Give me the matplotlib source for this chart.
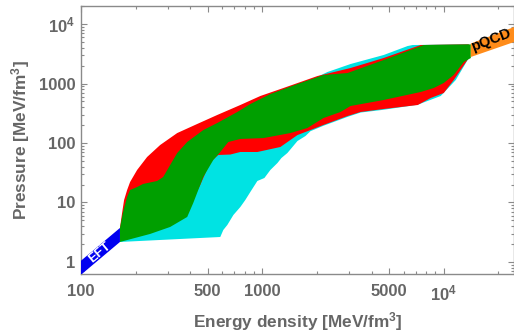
import matplotlib
matplotlib.use("Agg")
import matplotlib.pyplot as plt
import numpy as np
from matplotlib.ticker import FixedLocator, NullFormatter, FixedFormatter

plt.rcParams['font.family'] = ['Liberation Sans', 'DejaVu Sans']
plt.rcParams['mathtext.fontset'] = 'custom'
plt.rcParams['mathtext.rm'] = 'Liberation Sans:bold'
plt.rcParams['mathtext.bf'] = 'Liberation Sans:bold'
plt.rcParams['mathtext.it'] = 'Liberation Sans:bold'

# ---------------- data (energy density eps, pressure P in MeV/fm^3) -------------
# EFT band
eft_eps = [100, 164]
eft_p_low = [0.61, 2.17]
eft_p_high = [1.05, 3.73]

# pQCD band
pqcd_eps = [14100, 24400]
pqcd_p_low = [2790, 4980]
pqcd_p_high = [4700, 8900]

# cyan region
cyan_top_eps = [164, 240, 340, 455, 586, 756, 975, 1306, 2014, 2286, 3064, 4661, 6325, 6741, 13744]
cyan_top_p = [3.0, 15, 80, 150, 250, 400, 550, 800, 1300, 1561, 2127, 3013, 4268, 4437, 4550]
cyan_low_eps = [164, 586, 609, 641, 692, 756, 805, 858, 938.5, 1026, 1107, 1211, 1274, 1374, 1465,
                1561, 1728, 1842, 2173, 2949, 3479, 4661, 7185, 9626, 11652, 13744]
cyan_low_p = [2.17, 2.63, 3.45, 4.19, 6.16, 8.40, 11.0, 15.0, 23.0, 25.8, 35.2, 46.1, 56, 67.9, 85.7,
              108, 131, 158, 195, 275, 325, 362, 440, 617, 1145, 2683]

# red region
red_top_eps = [164, 168.5, 172.8, 179.6, 186.5, 203.9, 231.5, 273.3, 339.2, 437.5, 564.3, 755.7, 975,
               1306, 2014, 3064, 4661, 7463, 13744]
red_top_p = [3.73, 6.66, 11.0, 16.2, 22.1, 35.2, 58.2, 92.6, 147, 209, 296, 435, 617,
             840, 1337, 1822, 2683, 4437, 4550]
red_low_eps = [164, 240.5, 298.6, 352.4, 400.2, 454.5, 516.2, 571.4, 665.7, 755.7, 938.5, 1257, 1561,
               1842, 2173, 2949, 3479, 4661, 7185, 8478, 10000, 11356, 13744]
red_low_p = [2.25, 3.32, 4.35, 6.16, 9.08, 19.7, 47.9, 62.9, 64, 70.6, 70.6, 85.7, 136,
             165, 201, 284, 332, 373, 435, 571, 692, 1145, 2683]

# green region
green_top_eps = [164, 164, 170.6, 179.6, 186.5, 203.9, 220, 263, 283.8, 310.2, 339.2, 385.1, 472.1,
                 564.3, 727.4, 858.5, 1107, 1561, 2173, 2949, 4661, 7754, 14100]
green_top_p = [2.17, 3.73, 6.92, 12.4, 16.2, 18.2, 20.5, 23.0, 26.8, 42.7, 67.9, 104, 165,
               217, 332, 452, 666, 981, 1390, 1501, 2483, 4437, 4550]
green_low_eps = [164, 240.5, 310.2, 385.1, 415.8, 472.1, 536.3, 586.1, 649, 755.7, 1013, 1428, 1773,
                 2173, 2697, 3064, 4661, 7463, 8807, 10000, 11356, 12898, 14100]
green_low_p = [2.17, 2.96, 3.88, 5.71, 9.81, 26.8, 51.8, 70.6, 104, 117, 121, 147, 179,
               263, 332, 419, 528, 720, 840, 1020, 1390, 2298, 2683]

x_major = [100, 500, 1000, 5000, 10000]
x_major_labels = ['100', '500', '1000', '5000', r'$\mathbf{10^{4}}$']
y_major = [1, 10, 100, 1000, 10000]
y_major_labels = ['1', '10', '100', '1000', r'$\mathbf{10^{4}}$']

# ---------------- plotting ----------------
fig = plt.figure(figsize=(5.14, 3.33), dpi=100)
ax = fig.add_axes([81 / 514, 59 / 333, 433 / 514, 268 / 333])
ax.set_xscale('log')
ax.set_yscale('log')


def poly(ax, xt, yt, xb, yb, color, z):
    xs = list(xt) + list(xb)[::-1]
    ys = list(yt) + list(yb)[::-1]
    ax.fill(xs, ys, color=color, lw=0, zorder=z)


poly(ax, cyan_top_eps, cyan_top_p, cyan_low_eps, cyan_low_p, '#00E3E3', 2)
poly(ax, red_top_eps, red_top_p, red_low_eps, red_low_p, '#FF0000', 3)
poly(ax, green_top_eps, green_top_p, green_low_eps, green_low_p, '#009F00', 4)
poly(ax, eft_eps, eft_p_high, eft_eps, eft_p_low, '#0000F0', 5)
poly(ax, pqcd_eps, pqcd_p_high, pqcd_eps, pqcd_p_low, '#FF8C1A', 5)

ax.text(127, 1.42, 'EFT', color='white', fontweight='bold', fontsize=9.5, rotation=40,
        ha='center', va='center', zorder=6)
ax.text(18300, 5300, 'pQCD', color='black', fontweight='bold', fontsize=10.5, rotation=21,
        ha='center', va='center', zorder=6)

ax.set_xlim(100, 24400)
ax.set_ylim(0.628, 20090)

gray = '#666666'
spine_gray = '#8a8a8a'
for s in ax.spines.values():
    s.set_color(spine_gray)
    s.set_linewidth(1.0)

ax.xaxis.set_major_locator(FixedLocator(x_major))
ax.xaxis.set_major_formatter(FixedFormatter(x_major_labels))
xminor = [m * 10 ** k for k in range(2, 5) for m in range(1, 10)]
xminor = [v for v in xminor if v not in x_major]
ax.xaxis.set_minor_locator(FixedLocator(xminor))
ax.xaxis.set_minor_formatter(NullFormatter())

ax.yaxis.set_major_locator(FixedLocator(y_major))
ax.yaxis.set_major_formatter(FixedFormatter(y_major_labels))
yminor = [m * 10 ** k for k in range(-1, 5) for m in range(1, 10)]
yminor = [v for v in yminor if v not in y_major]
ax.yaxis.set_minor_locator(FixedLocator(yminor))
ax.yaxis.set_minor_formatter(NullFormatter())

ax.tick_params(which='both', direction='in', top=True, right=True, color=spine_gray, width=0.8)
ax.tick_params(which='major', length=4.5, labelsize=12, labelcolor=gray)
ax.tick_params(axis='x', which='major', pad=7)
ax.tick_params(axis='y', which='major', pad=4)
ax.tick_params(which='minor', length=2.5)
for lab in ax.get_xticklabels() + ax.get_yticklabels():
    lab.set_fontweight('bold')

ax.set_xlabel(r'Energy density [MeV/fm$^{\mathbf{3}}$]', fontsize=12.4, fontweight='bold', color=gray,
              labelpad=5)
ax.set_ylabel(r'Pressure [MeV/fm$^{\mathbf{3}}$]', fontsize=12.4, fontweight='bold', color=gray,
              labelpad=5)

fig.savefig('out.png', dpi=100)
